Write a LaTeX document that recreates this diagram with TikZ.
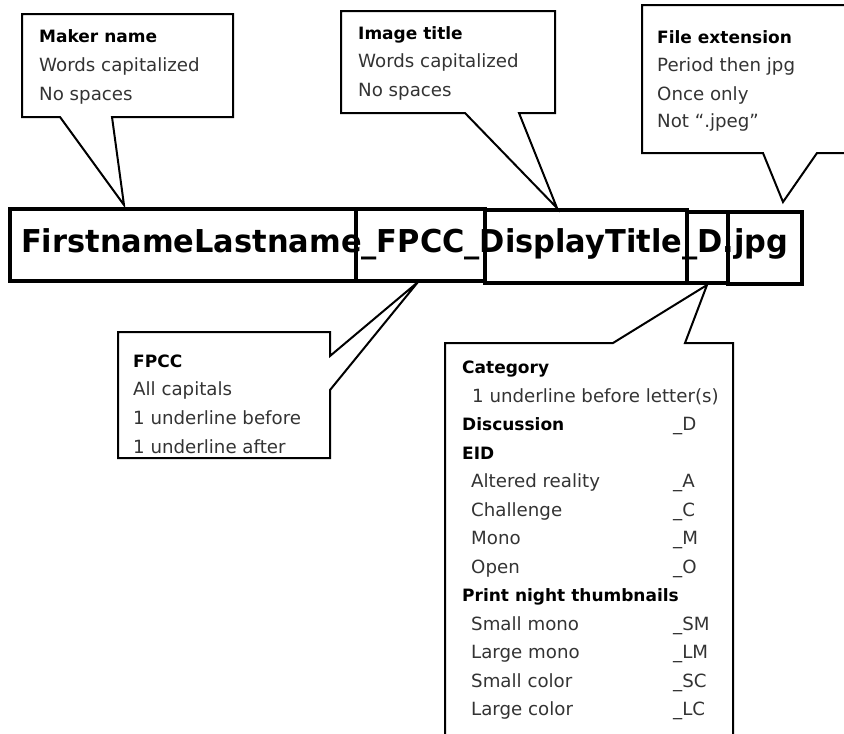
\documentclass[tikz,border=0pt]{standalone}
\usepackage{fontspec}
\setmainfont{DejaVu Sans}
\begin{document}
\begin{tikzpicture}[x=1pt,y=-1pt,
  callout/.style={draw=black, line width=2pt, line join=miter},
  fnbox/.style={draw=black, line width=3.2pt},
  hdr/.style={anchor=base west, inner sep=0pt, font=\fontsize{17}{20}\selectfont\bfseries, text=black},
  txt/.style={anchor=base west, inner sep=0pt, font=\fontsize{18.2}{21}\selectfont, text=black!80},
  big/.style={anchor=base west, inner sep=0pt, font=\fontsize{31.5}{36}\selectfont\bfseries}]
\useasboundingbox (0,0) rectangle (844,734);
\clip (0,0) rectangle (844,734);

% file name boxes
\draw[fnbox] (10,209) rectangle (356,281);
\draw[fnbox] (356,209) rectangle (485,281);
\draw[fnbox] (485,210) rectangle (687,283);
\draw[fnbox] (687,212) rectangle (728,283);
\draw[fnbox] (728,212) rectangle (802,284);
\node[big] (fname) at (21,252) {\scalebox{0.966}[1]{FirstnameLastname\_FPCC\_DisplayTitle\_D.jpg}};

% callout: maker name
\coordinate (tipA) at (124,205);
\draw[callout] (60,117) -- (22,117) -- (22,14) -- (233,14) -- (233,117) -- (112,117) -- (tipA) -- cycle;
\node[hdr] (mk1) at (39,42) {Maker name};
\node[txt] (mk2) at (39,71) {Words capitalized};
\node[txt] (mk3) at (39,100) {No spaces};

% callout: image title
\coordinate (tipC) at (557,208);
\draw[callout] (465,113) -- (341,113) -- (341,11) -- (555,11) -- (555,113) -- (519,113) -- (tipC) -- cycle;
\node[hdr] (it1) at (358,39) {Image title};
\node[txt] (it2) at (358,67.5) {Words capitalized};
\node[txt] (it3) at (358,96) {No spaces};

% callout: file extension
\coordinate (tipE) at (783,202);
\draw[callout] (763,153) -- (642,153) -- (642,5) -- (850,5) -- (850,153) -- (817,153) -- (tipE) -- cycle;
\node[hdr] (fe1) at (657,43) {File extension};
\node[txt] (fe2) at (657,71.5) {Period then jpg};
\node[txt] (fe3) at (657,100) {Once only};
\node[txt] (fe4) at (657,127) {Not “.jpeg”};

% callout: FPCC
\coordinate (tipB) at (418,282);
\draw[callout] (330,356) -- (330,332) -- (118,332) -- (118,458) -- (330,458) -- (330,390) -- (tipB) -- cycle;
\node[hdr] (fp1) at (133,367) {FPCC};
\node[txt] (fp2) at (133,395) {All capitals};
\node[txt] (fp3) at (133,424) {1 underline before};
\node[txt] (fp4) at (133,453) {1 underline after};

% callout: category
\coordinate (tipD) at (707,285);
\draw[callout] (613,343) -- (445,343) -- (445,745) -- (733,745) -- (733,343) -- (685,343) -- (tipD) -- cycle;
\node[hdr] (c1) at (462,373) {Category};
\node[txt] (c2) at (472,402) {1 underline before letter(s)};
\node[hdr] (c3) at (462,430.5) {Discussion};
\node[txt] (c3c) at (673,430.5) {\_D};
\node[hdr] (c4) at (462,459) {EID};
\node[txt] (c5) at (471,487.5) {Altered reality};
\node[txt] (c5c) at (673,487.5) {\_A};
\node[txt] (c6) at (471,516) {Challenge};
\node[txt] (c6c) at (673,516) {\_C};
\node[txt] (c7) at (471,544.5) {Mono};
\node[txt] (c7c) at (673,544.5) {\_M};
\node[txt] (c8) at (471,573) {Open};
\node[txt] (c8c) at (673,573) {\_O};
\node[hdr] (c9) at (462,601.5) {Print night thumbnails};
\node[txt] (c10) at (471,630) {Small mono};
\node[txt] (c10c) at (673,630) {\_SM};
\node[txt] (c11) at (471,658.5) {Large mono};
\node[txt] (c11c) at (673,658.5) {\_LM};
\node[txt] (c12) at (471,687) {Small color};
\node[txt] (c12c) at (673,687) {\_SC};
\node[txt] (c13) at (471,715.5) {Large color};
\node[txt] (c13c) at (673,715.5) {\_LC};
\end{tikzpicture}
\end{document}
